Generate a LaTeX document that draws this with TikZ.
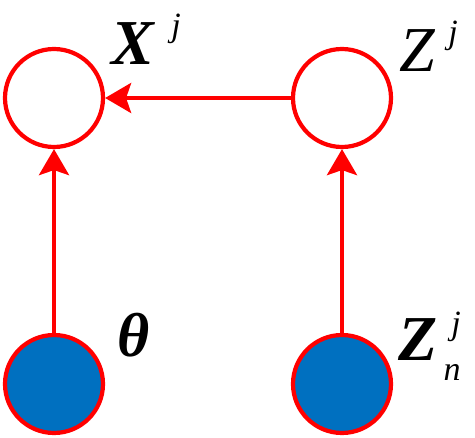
\documentclass[tikz,border=0pt]{standalone}
\usepackage{fontspec}
\setmainfont{Liberation Serif}
\usetikzlibrary{arrows.meta}
\definecolor{nodered}{RGB}{255,0,0}
\definecolor{nodeblue}{RGB}{0,112,192}
\begin{document}
\begin{tikzpicture}[x=1pt,y=-1pt,
  var/.style={circle,draw=nodered,line width=4.2pt,minimum size=98pt,inner sep=0pt,fill=white},
  obs/.style={var,fill=nodeblue},
  edge/.style={draw=nodered,line width=3.8pt,-{Stealth[length=26pt,width=30pt,inset=5pt]}},
  big/.style={inner sep=0pt,anchor=base,font=\fontsize{62}{62}\selectfont},
  small/.style={inner sep=0pt,anchor=base,font=\fontsize{34}{34}\selectfont\itshape}
]
\useasboundingbox (0,0) rectangle (475,438);
\node[var] (X) at (54,98) {};
\node[var] (Z) at (342,98) {};
\node[obs] (T) at (54,384) {};
\node[obs] (Zn) at (342,384) {};
\draw[edge] (Z) -- (X);
\draw[edge] (T) -- (X);
\draw[edge] (Zn) -- (Z);
\node[big,font=\fontsize{64}{64}\selectfont\bfseries\itshape] (lX) at (133,65) {X};
\node[small] (lXj) at (176,37) {j};
\node[big,font=\fontsize{64}{64}\selectfont\itshape] (lZ) at (417,72) {Z};
\node[small] (lZj) at (453,44) {j};
\node[big,font=\fontsize{62}{62}\selectfont\bfseries\itshape] (lT) at (134,357) {θ};
\node[big,font=\fontsize{64}{64}\selectfont\bfseries\itshape] (lZn) at (418,361) {Z};
\node[small] (lZnj) at (456,335) {j};
\node[small] (lZnn) at (452,381) {n};
\end{tikzpicture}
\end{document}
